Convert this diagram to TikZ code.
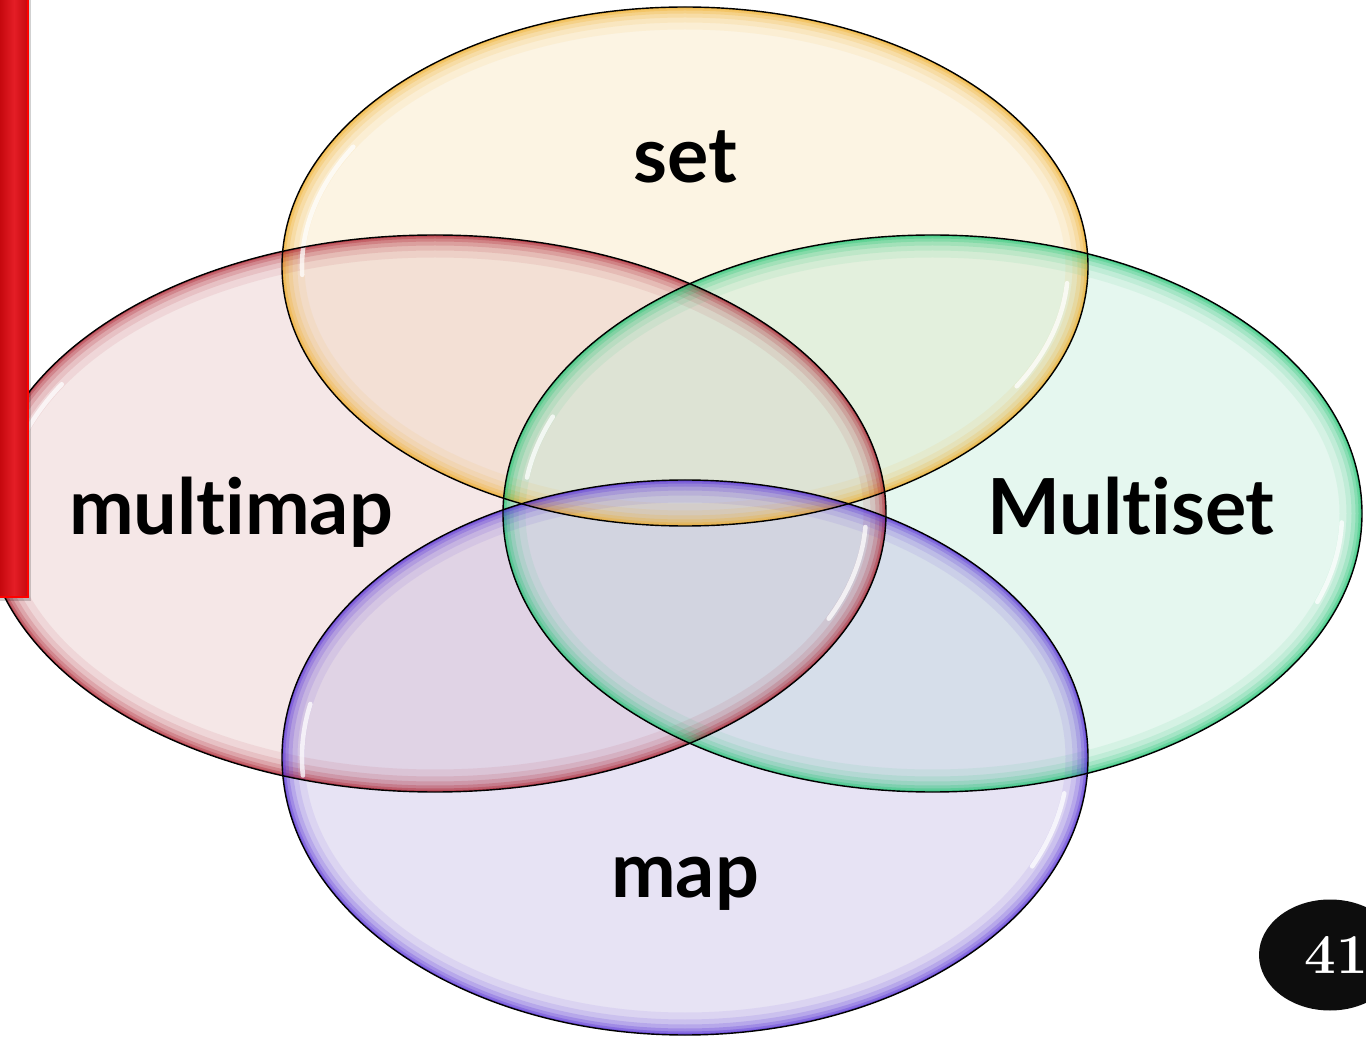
\documentclass[tikz,border=0pt]{standalone}
\usepackage{fontspec}
\setsansfont{Lato}[Ligatures=NoCommon]
\usepackage{tikz}
\usetikzlibrary{shapes.geometric}
\definecolor{Y}{RGB}{249, 226, 178}
\definecolor{Yb}{RGB}{240, 170, 30}
\definecolor{R}{RGB}{229, 189, 189}
\definecolor{Rb}{RGB}{170, 25, 40}
\definecolor{G}{RGB}{184, 235, 212}
\definecolor{Gb}{RGB}{25, 195, 110}
\definecolor{P}{RGB}{189, 178, 226}
\definecolor{Pb}{RGB}{80, 40, 215}
\definecolor{Bar1}{RGB}{198, 8, 14}
\definecolor{Bar2}{RGB}{228, 30, 38}
\tikzset{
  relleno/.style={fill=#1, fill opacity=0.36},
  halo/.style={draw=#1, draw opacity=0.42, line width=0.06cm,
    preaction={draw=#1, draw opacity=0.08, line width=0.9cm},
    preaction={draw=#1, draw opacity=0.11, line width=0.62cm},
    preaction={draw=#1, draw opacity=0.16, line width=0.42cm},
    preaction={draw=#1, draw opacity=0.22, line width=0.26cm},
    preaction={draw=#1, draw opacity=0.30, line width=0.14cm}},
  brillo/.style={draw=white, line width=2.6pt, line cap=round, draw opacity=0.75},
  contorno/.style={draw=black, line width=0.8pt},
  etiqueta/.style={font=\sffamily\bfseries\fontsize{44}{52}\selectfont, anchor=base}
}
\begin{document}
\begin{tikzpicture}
    \useasboundingbox (0,0) rectangle (27.32,20.74);
    \fill[white] (0,0) rectangle (27.32,20.74);

    %Centros de las elipses
    \coordinate (cS) at (13.70,15.41); %set
    \coordinate (cMM) at (8.70,10.47); %multimap
    \coordinate (cMS) at (18.65,10.47); %Multiset
    \coordinate (cM) at (13.70,5.59); %map

    %Rellenos transparentes
    \fill[relleno=Y] (cS) ellipse (8.06 and 5.19);
    \fill[relleno=R] (cMM) ellipse (9.02 and 5.57);
    \fill[relleno=G] (cMS) ellipse (8.59 and 5.57);
    \fill[relleno=P] (cM) ellipse (8.06 and 5.55);

    %Borde interior de color (set)
    \begin{scope}
        \clip (cS) ellipse (8.06 and 5.19);
        \draw[halo=Yb] (cS) ellipse (8.06 and 5.19);
    \end{scope}

    %Borde interior de color (multimap)
    \begin{scope}
        \clip (cMM) ellipse (9.02 and 5.57);
        \draw[halo=Rb] (cMM) ellipse (9.02 and 5.57);
    \end{scope}

    %Borde interior de color (Multiset)
    \begin{scope}
        \clip (cMS) ellipse (8.59 and 5.57);
        \draw[halo=Gb] (cMS) ellipse (8.59 and 5.57);
    \end{scope}

    %Borde interior de color (map)
    \begin{scope}
        \clip (cM) ellipse (8.06 and 5.55);
        \draw[halo=Pb] (cM) ellipse (8.06 and 5.55);
    \end{scope}

    %Brillos blancos
    \draw[brillo] ([shift={(150:7.66 and 4.79)}]cS) arc[start angle=150, end angle=182, x radius=7.66, y radius=4.79];
    \draw[brillo] ([shift={(330:7.66 and 4.79)}]cS) arc[start angle=330, end angle=356, x radius=7.66, y radius=4.79];
    \draw[brillo] ([shift={(150:8.62 and 5.17)}]cMM) arc[start angle=150, end angle=168, x radius=8.62, y radius=5.17];
    \draw[brillo] ([shift={(336:8.62 and 5.17)}]cMM) arc[start angle=336, end angle=357, x radius=8.62, y radius=5.17];
    \draw[brillo] ([shift={(158:8.19 and 5.17)}]cMS) arc[start angle=158, end angle=172, x radius=8.19, y radius=5.17];
    \draw[brillo] ([shift={(340:8.19 and 5.17)}]cMS) arc[start angle=340, end angle=358, x radius=8.19, y radius=5.17];
    \draw[brillo] ([shift={(168:7.66 and 5.15)}]cM) arc[start angle=168, end angle=184, x radius=7.66, y radius=5.15];
    \draw[brillo] ([shift={(335:7.66 and 5.15)}]cM) arc[start angle=335, end angle=352, x radius=7.66, y radius=5.15];

    %Contornos
    \draw[contorno] (cS) ellipse (8.06 and 5.19);
    \draw[contorno] (cMM) ellipse (9.02 and 5.57);
    \draw[contorno] (cMS) ellipse (8.59 and 5.57);
    \draw[contorno] (cM) ellipse (8.06 and 5.55);

    %Etiquetas
    \node[etiqueta] (set) at (13.70,17.08) {set};
    \node[etiqueta] (multimap) at (4.62,10.04) {multimap};
    \node[etiqueta] (multiset) at (22.62,10.04) {Multiset};
    \node[etiqueta] (map) at (13.70,2.80) {map};

    %Barra roja a la izquierda
    \fill[black, opacity=0.18] (0,8.72) rectangle (0.62,20.74);
    \shade[left color=Bar1, right color=Bar1, middle color=Bar2] (0,8.80) rectangle (0.56,20.74);
    \draw[red, line width=1.2pt] (0,8.80) -- (0.56,8.80) -- (0.56,20.74);

    %Numero de pagina
    \node[ellipse, fill=black!95, minimum width=2.84cm, minimum height=2.22cm] (pag) at (26.60,1.64) {};
    \node[text=white, anchor=base, font=\rmfamily\bfseries\fontsize{32}{36}\selectfont] (num) at (26.72,1.28) {41};
\end{tikzpicture}
\end{document}
